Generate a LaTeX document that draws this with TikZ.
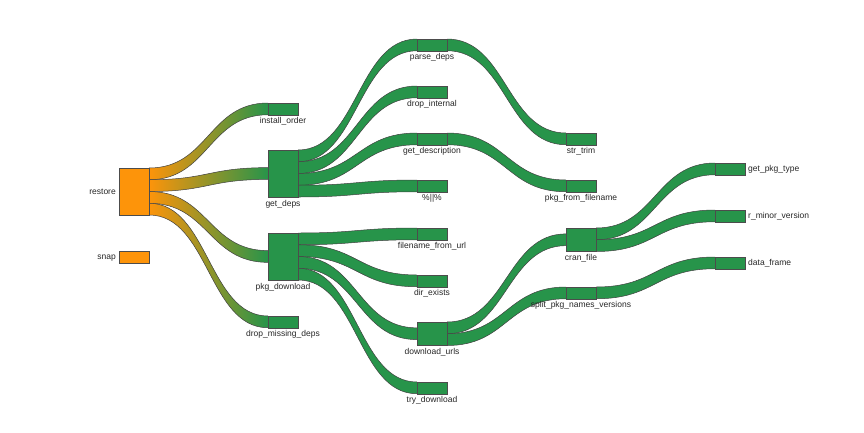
\documentclass[tikz,border=0pt]{standalone}
\usepackage{fontspec}
\setmainfont{Liberation Sans}
\usetikzlibrary{calc}
\definecolor{orangeC}{RGB}{253,148,10}
\definecolor{greenC}{RGB}{39,148,74}
\pgfdeclarelayer{bg}
\pgfsetlayers{bg,main}
\newcommand\flowband[5]{%
  \path (#1.north east) ++(0,#2*11.75) coordinate (fa) ++(0,11.75) coordinate (fb);
  \path (#3.north west) ++(0,#4*11.75) coordinate (ta) ++(0,11.75) coordinate (tb);
  \path ($(fa)!0.5!(ta)$) coordinate (fm);
  \begin{pgfonlayer}{bg}
  \path[#5] (fa) .. controls (fm |- fa) and (fm |- ta) .. (ta) -- (tb) .. controls (fm |- tb) and (fm |- fb) .. (fb) -- cycle;
  \draw[flowedge] (fa) .. controls (fm |- fa) and (fm |- ta) .. (ta);
  \draw[flowedge] (fb) .. controls (fm |- fb) and (fm |- tb) .. (tb);
  \end{pgfonlayer}%
}
\begin{document}
\begin{tikzpicture}[x=1pt,y=-1pt,
  nbox/.style={draw=black!70, line width=0.5pt, minimum width=30pt, inner sep=0pt, outer sep=0pt, anchor=north west, minimum height=#1*11.75pt},
  nbox/.default=1,
  gnode/.style={nbox=#1, fill=greenC},
  gnode/.default=1,
  onode/.style={nbox=#1, fill=orangeC},
  onode/.default=1,
  lbl/.style={font=\fontsize{8.5}{10}\selectfont, text=black!85, inner sep=0pt},
  flowedge/.style={draw=black!75, line width=0.5pt},
  gfill/.style={fill=greenC},
  ofill/.style={left color=orangeC, right color=greenC}
]
\useasboundingbox (0,0) rectangle (864,432);
% column 0
\node[onode=4] (restore) at (119,168) {};
\node[onode] (snap) at (119,251) {};
% column 1
\node[gnode] (inst) at (268,103) {};
\node[gnode=4] (gdeps) at (268,150) {};
\node[gnode=4] (pkgdl) at (268,233) {};
\node[gnode] (dmd) at (268,316) {};
% column 2
\node[gnode] (pdeps) at (417,39) {};
\node[gnode] (dint) at (417,86) {};
\node[gnode] (gdesc) at (417,133) {};
\node[gnode] (pipe) at (417,180) {};
\node[gnode] (ffu) at (417,228) {};
\node[gnode] (dex) at (417,275) {};
\node[gnode=2] (durls) at (417,322) {};
\node[gnode] (trydl) at (417,382) {};
% column 3
\node[gnode] (strtrim) at (566,133) {};
\node[gnode] (pff) at (566,180) {};
\node[gnode=2] (cran) at (566,228) {};
\node[gnode] (split) at (566,287) {};
% column 4
\node[gnode] (gpt) at (715,163) {};
\node[gnode] (rmv) at (715,210) {};
\node[gnode] (dfr) at (715,257) {};
% labels
\node[lbl, anchor=base east] (l-restore) at ($(restore.west)+(-3,3)$) {restore};
\node[lbl, anchor=base east] (l-snap) at ($(snap.west)+(-3,3)$) {snap};
\node[lbl, anchor=base] (l-inst) at ($(inst.south)+(0,9)$) {install\_order};
\node[lbl, anchor=base] (l-gdeps) at ($(gdeps.south)+(0,9)$) {get\_deps};
\node[lbl, anchor=base] (l-pkgdl) at ($(pkgdl.south)+(0,9)$) {pkg\_download};
\node[lbl, anchor=base] (l-dmd) at ($(dmd.south)+(0,9)$) {drop\_missing\_deps};
\node[lbl, anchor=base] (l-pdeps) at ($(pdeps.south)+(0,9)$) {parse\_deps};
\node[lbl, anchor=base] (l-dint) at ($(dint.south)+(0,9)$) {drop\_internal};
\node[lbl, anchor=base] (l-gdesc) at ($(gdesc.south)+(0,9)$) {get\_description};
\node[lbl, anchor=base] (l-pipe) at ($(pipe.south)+(0,9)$) {\%||\%};
\node[lbl, anchor=base] (l-ffu) at ($(ffu.south)+(0,9)$) {filename\_from\_url};
\node[lbl, anchor=base] (l-dex) at ($(dex.south)+(0,9)$) {dir\_exists};
\node[lbl, anchor=base] (l-durls) at ($(durls.south)+(0,9)$) {download\_urls};
\node[lbl, anchor=base] (l-trydl) at ($(trydl.south)+(0,9)$) {try\_download};
\node[lbl, anchor=base] (l-strtrim) at ($(strtrim.south)+(0,9)$) {str\_trim};
\node[lbl, anchor=base] (l-pff) at ($(pff.south)+(0,9)$) {pkg\_from\_filename};
\node[lbl, anchor=base] (l-cran) at ($(cran.south)+(0,9)$) {cran\_file};
\node[lbl, anchor=base] (l-split) at ($(split.south)+(0,9)$) {split\_pkg\_names\_versions};
\node[lbl, anchor=base west] (l-gpt) at ($(gpt.east)+(3,3)$) {get\_pkg\_type};
\node[lbl, anchor=base west] (l-rmv) at ($(rmv.east)+(3,3)$) {r\_minor\_version};
\node[lbl, anchor=base west] (l-dfr) at ($(dfr.east)+(3,3)$) {data\_frame};
% flows
\flowband{restore}{0}{inst}{0}{ofill}
\flowband{restore}{1}{gdeps}{1.5}{ofill}
\flowband{restore}{2}{pkgdl}{1.5}{ofill}
\flowband{restore}{3}{dmd}{0}{ofill}
\flowband{gdeps}{0}{pdeps}{0}{gfill}
\flowband{gdeps}{1}{dint}{0}{gfill}
\flowband{gdeps}{2}{gdesc}{0}{gfill}
\flowband{gdeps}{3}{pipe}{0}{gfill}
\flowband{pkgdl}{0}{ffu}{0}{gfill}
\flowband{pkgdl}{1}{dex}{0}{gfill}
\flowband{pkgdl}{2}{durls}{0.5}{gfill}
\flowband{pkgdl}{3}{trydl}{0}{gfill}
\flowband{pdeps}{0}{strtrim}{0}{gfill}
\flowband{gdesc}{0}{pff}{0}{gfill}
\flowband{durls}{0}{cran}{0.5}{gfill}
\flowband{durls}{1}{split}{0}{gfill}
\flowband{cran}{0}{gpt}{0}{gfill}
\flowband{cran}{1}{rmv}{0}{gfill}
\flowband{split}{0}{dfr}{0}{gfill}
\end{tikzpicture}
\end{document}
